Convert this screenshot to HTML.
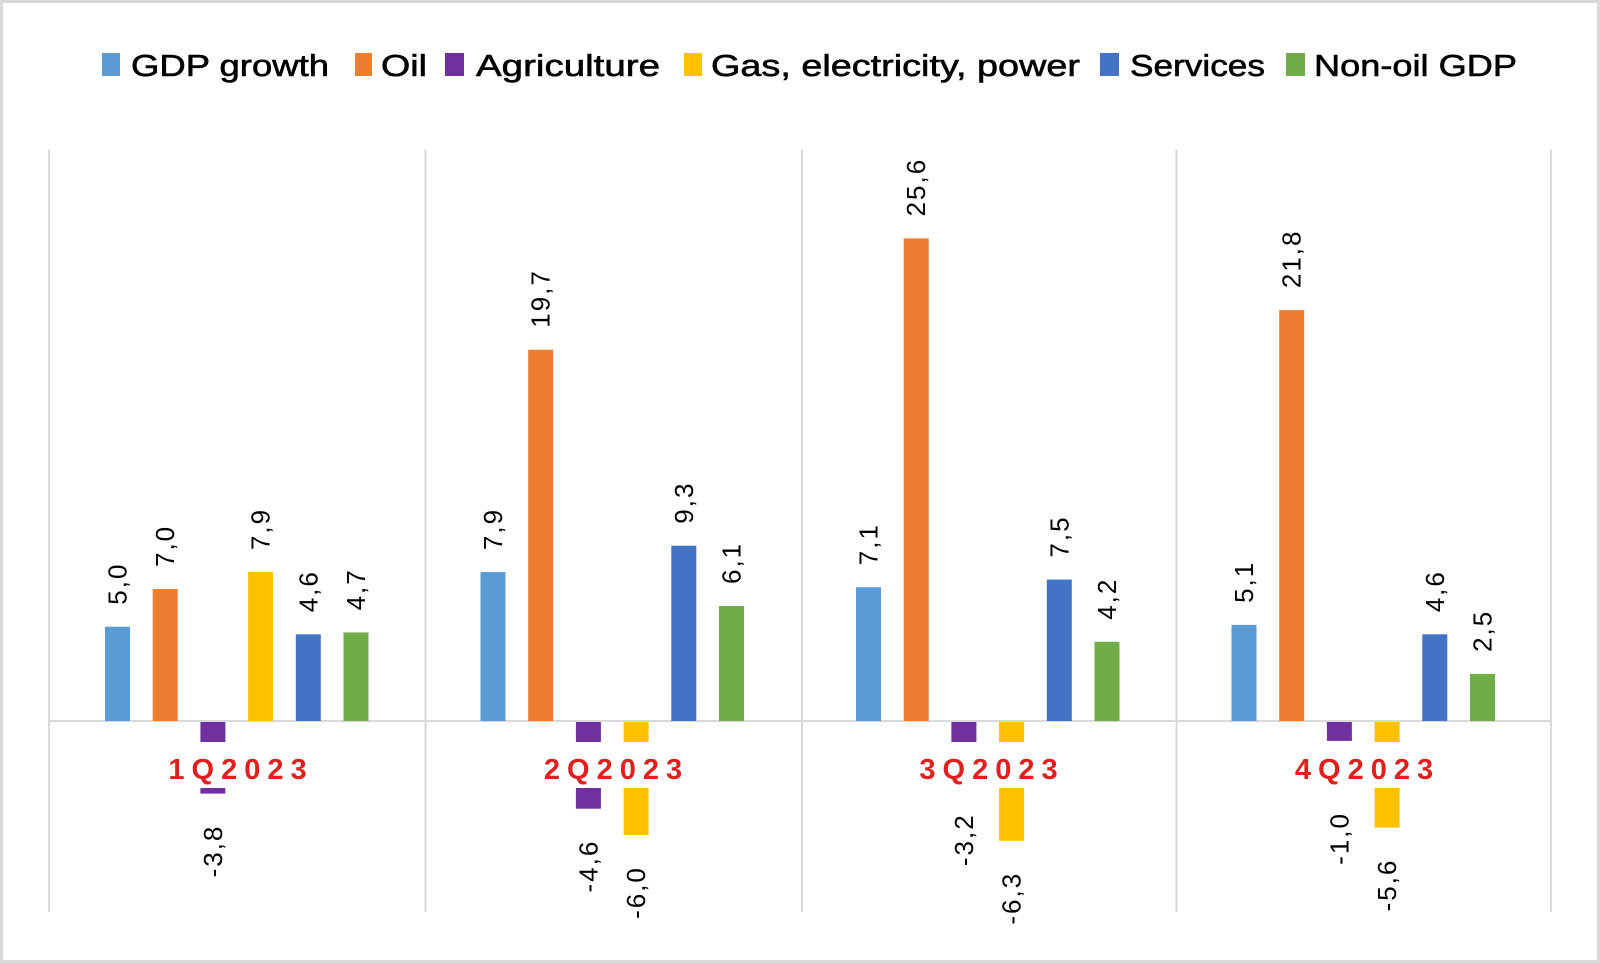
<!DOCTYPE html>
<html><head><meta charset="utf-8"><style>
html,body{margin:0;padding:0;background:#fff}
svg{display:block}
</style></head><body>
<svg width="1600" height="963" xmlns="http://www.w3.org/2000/svg" font-family="'Liberation Sans', sans-serif">
<rect x="1.5" y="1.5" width="1597" height="960" fill="#fff" stroke="#d9d9d9" stroke-width="3"/>
<g font-size="31" fill="#000" stroke="#000" stroke-width="0.6">
<rect x="102" y="53" width="18" height="23" fill="#5B9BD5" stroke="none"/><text x="131" y="76" textLength="198" lengthAdjust="spacingAndGlyphs">GDP growth</text>
<rect x="355" y="53" width="17" height="23" fill="#ED7D31" stroke="none"/><text x="381" y="76" textLength="46" lengthAdjust="spacingAndGlyphs">Oil</text>
<rect x="445" y="53" width="19" height="23" fill="#7030A0" stroke="none"/><text x="476" y="76" textLength="184" lengthAdjust="spacingAndGlyphs">Agriculture</text>
<rect x="684" y="53" width="18" height="23" fill="#FFC000" stroke="none"/><text x="711" y="76" textLength="369" lengthAdjust="spacingAndGlyphs">Gas, electricity, power</text>
<rect x="1100" y="53" width="19" height="23" fill="#4472C4" stroke="none"/><text x="1130" y="76" textLength="135" lengthAdjust="spacingAndGlyphs">Services</text>
<rect x="1286" y="53" width="19" height="23" fill="#70AD47" stroke="none"/><text x="1314" y="76" textLength="203" lengthAdjust="spacingAndGlyphs">Non-oil GDP</text>
</g>
<g stroke="#d9d9d9" stroke-width="2">
<line x1="49" y1="150" x2="49" y2="912"/>
<line x1="425.5" y1="150" x2="425.5" y2="912"/>
<line x1="802" y1="150" x2="802" y2="912"/>
<line x1="1176.5" y1="150" x2="1176.5" y2="912"/>
<line x1="1551" y1="150" x2="1551" y2="912"/>
<line x1="49" y1="721" x2="1551" y2="721"/>
</g>
<g>
<rect x="105" y="626.7" width="25" height="94.3" fill="#5B9BD5"/>
<rect x="152.7" y="589" width="25" height="132" fill="#ED7D31"/>
<rect x="200.4" y="722" width="25" height="71.6" fill="#7030A0"/>
<rect x="248.1" y="572.1" width="25" height="148.9" fill="#FFC000"/>
<rect x="295.8" y="634.3" width="25" height="86.7" fill="#4472C4"/>
<rect x="343.5" y="632.4" width="25" height="88.6" fill="#70AD47"/>

<rect x="480.5" y="572.1" width="25" height="148.9" fill="#5B9BD5"/>
<rect x="528.2" y="349.7" width="25" height="371.3" fill="#ED7D31"/>
<rect x="575.9" y="722" width="25" height="86.7" fill="#7030A0"/>
<rect x="623.6" y="722" width="25" height="113.1" fill="#FFC000"/>
<rect x="671.3" y="545.7" width="25" height="175.3" fill="#4472C4"/>
<rect x="719" y="606" width="25" height="115" fill="#70AD47"/>

<rect x="856" y="587.2" width="25" height="133.8" fill="#5B9BD5"/>
<rect x="903.7" y="238.4" width="25" height="482.6" fill="#ED7D31"/>
<rect x="951.4" y="722" width="25" height="60.3" fill="#7030A0"/>
<rect x="999.1" y="722" width="25" height="118.8" fill="#FFC000"/>
<rect x="1046.8" y="579.6" width="25" height="141.4" fill="#4472C4"/>
<rect x="1094.5" y="641.8" width="25" height="79.2" fill="#70AD47"/>

<rect x="1231.5" y="624.9" width="25" height="96.1" fill="#5B9BD5"/>
<rect x="1279.2" y="310.1" width="25" height="410.9" fill="#ED7D31"/>
<rect x="1326.9" y="722" width="25" height="18.9" fill="#7030A0"/>
<rect x="1374.6" y="722" width="25" height="105.6" fill="#FFC000"/>
<rect x="1422.3" y="634.3" width="25" height="86.7" fill="#4472C4"/>
<rect x="1470" y="673.9" width="25" height="47.1" fill="#70AD47"/>
</g>
<g font-size="26" fill="#000" letter-spacing="2">
<text x="126.5" y="604.7" transform="rotate(-90 126.5 604.7)">5,0</text>
<text x="174.2" y="567" transform="rotate(-90 174.2 567)">7,0</text>
<text x="221.9" y="824.6" transform="rotate(-90 221.9 824.6)" text-anchor="end">-3,8</text>
<text x="269.6" y="550.1" transform="rotate(-90 269.6 550.1)">7,9</text>
<text x="317.3" y="612.3" transform="rotate(-90 317.3 612.3)">4,6</text>
<text x="365" y="610.4" transform="rotate(-90 365 610.4)">4,7</text>

<text x="502" y="550.1" transform="rotate(-90 502 550.1)">7,9</text>
<text x="549.7" y="327.7" transform="rotate(-90 549.7 327.7)">19,7</text>
<text x="597.4" y="839.7" transform="rotate(-90 597.4 839.7)" text-anchor="end">-4,6</text>
<text x="645.1" y="866.1" transform="rotate(-90 645.1 866.1)" text-anchor="end">-6,0</text>
<text x="692.8" y="523.7" transform="rotate(-90 692.8 523.7)">9,3</text>
<text x="740.5" y="584" transform="rotate(-90 740.5 584)">6,1</text>

<text x="877.5" y="565.2" transform="rotate(-90 877.5 565.2)">7,1</text>
<text x="925.2" y="216.4" transform="rotate(-90 925.2 216.4)">25,6</text>
<text x="972.9" y="813.3" transform="rotate(-90 972.9 813.3)" text-anchor="end">-3,2</text>
<text x="1020.6" y="871.8" transform="rotate(-90 1020.6 871.8)" text-anchor="end">-6,3</text>
<text x="1068.3" y="557.6" transform="rotate(-90 1068.3 557.6)">7,5</text>
<text x="1116" y="619.8" transform="rotate(-90 1116 619.8)">4,2</text>

<text x="1253" y="602.9" transform="rotate(-90 1253 602.9)">5,1</text>
<text x="1300.7" y="288.1" transform="rotate(-90 1300.7 288.1)">21,8</text>
<text x="1348.4" y="812" transform="rotate(-90 1348.4 812)" text-anchor="end">-1,0</text>
<text x="1396.1" y="858.6" transform="rotate(-90 1396.1 858.6)" text-anchor="end">-5,6</text>
<text x="1443.8" y="612.3" transform="rotate(-90 1443.8 612.3)">4,6</text>
<text x="1491.5" y="651.9" transform="rotate(-90 1491.5 651.9)">2,5</text>
</g>
<g font-size="29" font-weight="bold" fill="#e0201f" text-anchor="middle" letter-spacing="7">
<rect x="159" y="742" width="156" height="46" fill="#fff"/>
<text x="241" y="779">1Q2023</text>
<rect x="534.5" y="742" width="156" height="46" fill="#fff"/>
<text x="616.5" y="779">2Q2023</text>
<rect x="910" y="742" width="156" height="46" fill="#fff"/>
<text x="992" y="779">3Q2023</text>
<rect x="1285.5" y="742" width="156" height="46" fill="#fff"/>
<text x="1367.5" y="779">4Q2023</text>
</g>
</svg>
</body></html>
